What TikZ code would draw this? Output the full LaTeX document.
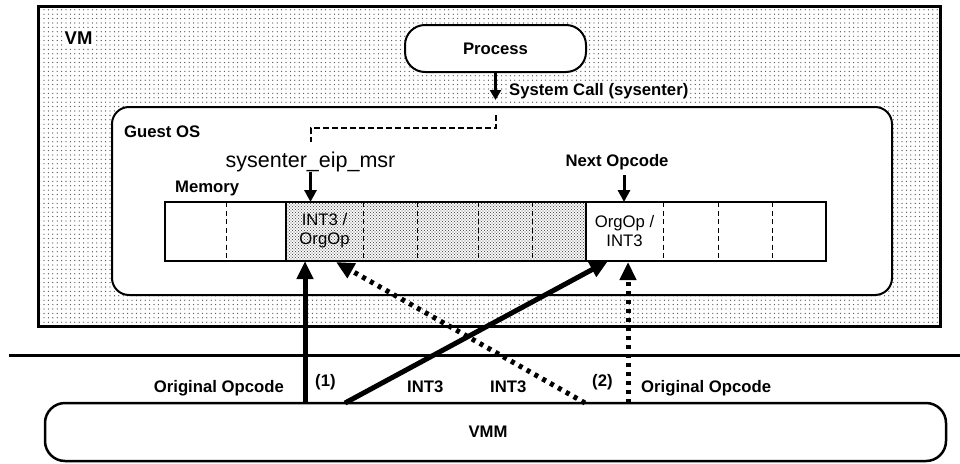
\documentclass[tikz,border=0pt]{standalone}
\usepackage{fontspec}
\setmainfont{Liberation Sans}
\usetikzlibrary{arrows.meta,patterns}

% sparse dot grid for the VM background
\pgfdeclarepatternformonly{vmdots}{\pgfqpoint{-1pt}{-1pt}}{\pgfqpoint{5.4pt}{5.4pt}}{\pgfqpoint{4.4pt}{4.4pt}}{%
  \pgfpathcircle{\pgfqpoint{0pt}{0pt}}{0.65pt}\pgfusepath{fill}}
% dense staggered dots for the patched memory range
\pgfdeclarepatternformonly{memdots}{\pgfqpoint{-1pt}{-1pt}}{\pgfqpoint{4pt}{4pt}}{\pgfqpoint{3pt}{3pt}}{%
  \pgfpathcircle{\pgfqpoint{0pt}{0pt}}{0.6pt}%
  \pgfpathcircle{\pgfqpoint{1.5pt}{1.5pt}}{0.6pt}\pgfusepath{fill}}

\begin{document}
\begin{tikzpicture}[x=1pt,y=-1pt,
  lbl/.style={font=\bfseries\fontsize{16.7}{20}\selectfont, inner sep=0pt},
  celltxt/.style={font=\fontsize{16.7}{19}\selectfont, align=center, inner sep=0pt},
  vmbox/.style={draw, line width=3pt, rectangle, inner sep=0pt, outer sep=0pt,
                pattern=vmdots, pattern color=black!70},
  procbox/.style={draw, line width=2pt, fill=white, rounded corners=20pt,
                  inner sep=0pt, outer sep=0pt, font=\bfseries\fontsize{16.7}{20}\selectfont},
  guestbox/.style={draw, line width=2pt, fill=white, rounded corners=17pt,
                   inner sep=0pt, outer sep=0pt},
  membox/.style={draw, line width=1.3pt, inner sep=0pt, outer sep=0pt},
  vmmbox/.style={draw, line width=2.5pt, fill=white, rounded corners=20pt,
                 inner sep=0pt, outer sep=0pt},
  cellsep/.style={line width=1pt, dash pattern=on 5pt off 3.5pt},
  linkdash/.style={line width=2pt, dash pattern=on 6pt off 3pt},
  thinarrow/.style={line width=2.5pt, -{Triangle[width=11pt,length=10pt]}},
  medarrow/.style={line width=3pt, -{Triangle[width=12pt,length=12pt]}},
  bigarrow/.style={line width=5pt, -{Triangle[width=16pt,length=18pt]}},
  bigdotted/.style={bigarrow, dash pattern=on 4pt off 5pt}]

\useasboundingbox (0,0) rectangle (960,463);

% virtual machine and its contents
\node[vmbox, minimum width=902pt, minimum height=320pt] (vm) at (489,166) {};
\node[lbl, font=\bfseries\fontsize{18.5}{22}\selectfont, fill=white, inner sep=1.5pt,
      anchor=base west] (vmlbl) at (63,44) {VM};

\node[guestbox, minimum width=780pt, minimum height=188pt] (guest) at (502,201) {};
\node[lbl, anchor=base west] (guestlbl) at (124,137) {Guest OS};

\node[procbox, minimum width=181pt, minimum height=47pt] (proc) at (495.5,48.5) {Process};

% system call into the guest kernel
\coordinate (scend) at (495.5,100);
\draw[thinarrow] (proc.south) -- (scend);
\node[lbl, fill=white, inner sep=1pt, anchor=base west] (sclbl) at (508,95) {System Call (sysenter)};

\coordinate (dstart) at (495.5,115);
\coordinate (dend) at (310.5,142);
\draw[linkdash] (dstart) -- ++(0,13) -| (dend);

\node[anchor=base, inner sep=0pt, font=\fontsize{21.5}{24}\selectfont] (eip) at (310.5,167) {sysenter\_eip\_msr};

\node[lbl, anchor=base west] (memlbl) at (175,192) {Memory};
\node[lbl, anchor=base] (nxt) at (617,166) {Next Opcode};
\coordinate (nxtfoot) at (624,175);

% memory strip
\fill[pattern=memdots, pattern color=black!65] (286,202) rectangle (586,261);
\foreach \x in {226,363,417,478,532,663,718,772}
  \draw[cellsep] (\x,202) -- (\x,261);
\draw[line width=1.3pt] (286,202) -- (286,261);
\draw[line width=1.3pt] (586,202) -- (586,261);
\node[membox, minimum width=661pt, minimum height=59pt] (mem) at (495.5,231.5) {};

\node[celltxt] (cellA) at (324.5,231) {INT3 /\\OrgOp};
\node[celltxt] (cellB) at (624.5,231) {OrgOp /\\INT3};

\draw[medarrow] (eip.south) -- (eip.south |- mem.north);
\draw[medarrow] (nxtfoot) -- (nxtfoot |- mem.north);

% boundary between guest and monitor
\coordinate (hl) at (9,355);
\coordinate (hr) at (960,355);
\draw[line width=3pt] (hl) -- (hr);

% virtual machine monitor
\node[vmmbox, minimum width=901pt, minimum height=58pt] (vmm) at (495.5,432) {};
\node[lbl] (vmmlbl) at (488,432) {VMM};

% patching steps
\coordinate (a1s) at (305,403);   \coordinate (a1t) at (305,261);
\coordinate (a2s) at (345,403);   \coordinate (a2t) at (608,261);
\coordinate (a3s) at (585,403);   \coordinate (a3t) at (336,262);
\coordinate (a4s) at (628,403);   \coordinate (a4t) at (628,262);

\draw[bigarrow]  (a1s) -- (a1t);
\draw[bigarrow]  (a2s) -- (a2t);
\draw[bigdotted] (a3s) -- (a3t);
\draw[bigdotted] (a4s) -- (a4t);

\node[lbl, anchor=base east] (orgL) at (284,392) {Original Opcode};
\node[lbl, anchor=base west] (step1) at (315,386.5) {(1)};
\node[lbl, anchor=base west] (int3a) at (407,392) {INT3};
\node[lbl, anchor=base west] (int3b) at (490,392) {INT3};
\node[lbl, anchor=base west] (step2) at (592,386.5) {(2)};
\node[lbl, anchor=base west] (orgR) at (641,392) {Original Opcode};

\end{tikzpicture}
\end{document}
